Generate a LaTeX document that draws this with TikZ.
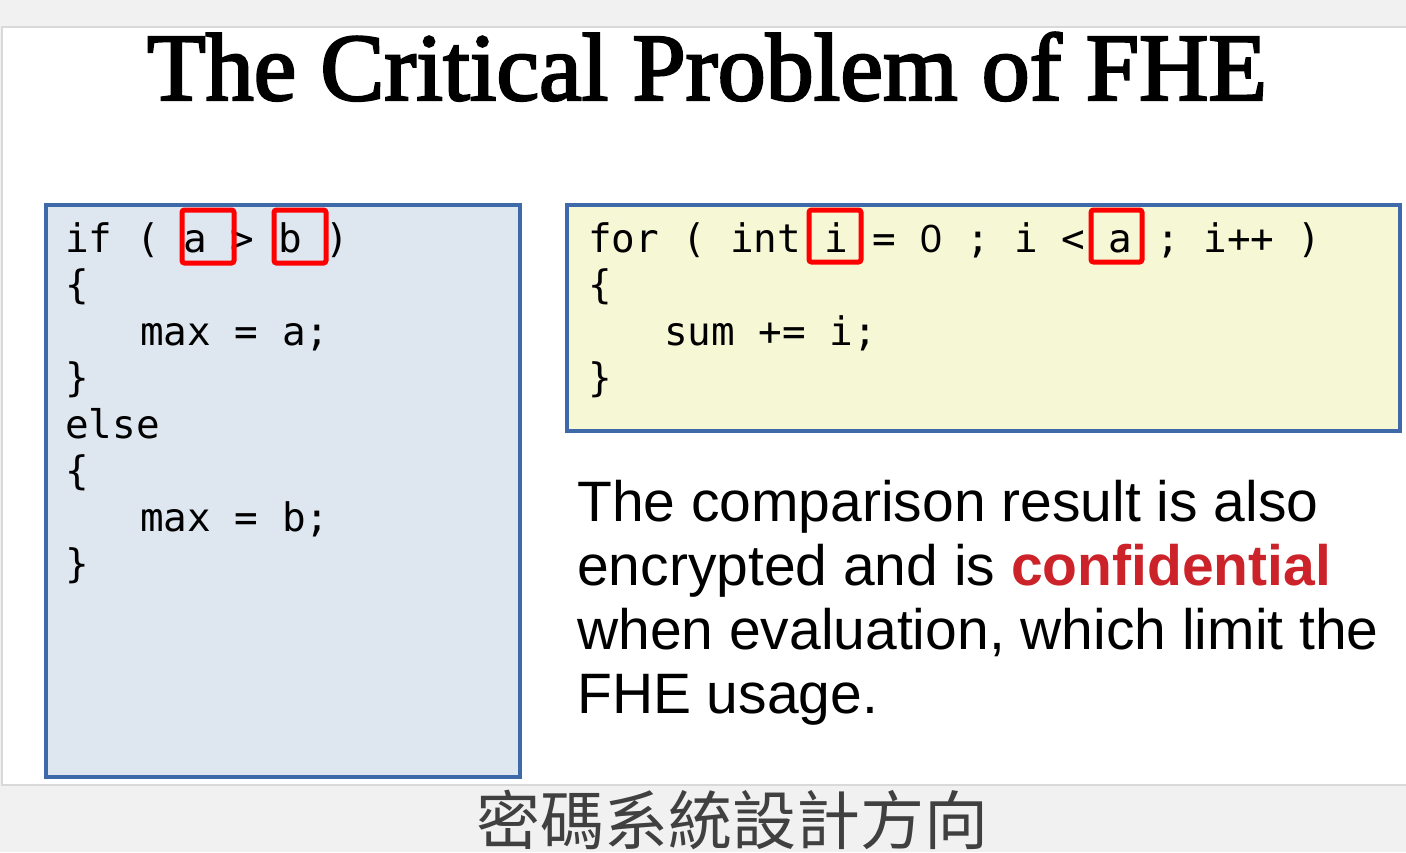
\documentclass[tikz,border=0pt]{standalone}
\usepackage{fontspec}
\setmainfont{Liberation Serif}
\newfontfamily\titlefont[FakeBold=2.5]{Liberation Serif}
\newfontfamily\codefont{DejaVu Sans Mono}
\newfontfamily\parafont{Liberation Sans}
\newfontfamily\cjkfont{Noto Sans CJK TC}
\newcommand{\plainzero}{\makebox[\fontcharwd\font`0][c]{\parafont 0}}
\definecolor{bggray}{HTML}{F1F1F1}
\definecolor{slideedge}{HTML}{D9D9D9}
\definecolor{leftfill}{HTML}{DEE6F0}
\definecolor{boxblue}{HTML}{3E6AAA}
\definecolor{yellowfill}{HTML}{F6F7D4}
\definecolor{markred}{HTML}{FF0000}
\definecolor{confred}{HTML}{CC2229}
\tikzset{
  codeline/.style={anchor=base west, inner sep=0pt, font=\codefont\fontsize{39.3}{39.3}\selectfont},
  paraline/.style={anchor=base west, inner sep=0pt, font=\parafont\fontsize{57}{57}\selectfont},
  codebox/.style={draw=boxblue, line width=4.5pt},
  markbox/.style={draw=markred, line width=5pt, rounded corners=2.5pt},
}
\begin{document}
\begin{tikzpicture}[x=1pt,y=-1pt]
\useasboundingbox (0,0) rectangle (1406,852);
\clip (0,0) rectangle (1406,852);
% background and slide
\fill[bggray] (0,0) rectangle (1406,852);
\draw[slideedge, line width=2pt, fill=white] (2,27) rectangle (1412,785);
% title
\node[anchor=base, inner sep=0pt, font=\titlefont\fontsize{96}{96}\selectfont] (title) at (707,100) {The Critical Problem of FHE};
% left code box
\draw[codebox, fill=leftfill] (46,205) rectangle (520,777);
\node[codeline] (l1) at (65,252) {if ( a > b )};
\node[codeline] (l2) at (65,298.5) {\{};
\node[codeline] (l3) at (140,345) {max = a;};
\node[codeline] (l4) at (65,391.5) {\}};
\node[codeline] (l5) at (65,438) {else};
\node[codeline] (l6) at (65,484.5) {\{};
\node[codeline] (l7) at (140,531) {max = b;};
\node[codeline] (l8) at (65,577.5) {\}};
\draw[markbox] (182,210) rectangle (234,263);
\draw[markbox] (274,210) rectangle (326,263);
% right code box
\draw[codebox, fill=yellowfill] (567,205) rectangle (1400,431);
\node[codeline] (r1) at (588,252) {for ( int i = \plainzero{} ; i < a ; i++ )};
\node[codeline] (r2) at (588,298.5) {\{};
\node[codeline] (r3) at (664,345) {sum += i;};
\node[codeline] (r4) at (588,391.5) {\}};
\draw[markbox] (809,210) rectangle (861,262);
\draw[markbox] (1091,210) rectangle (1142,262);
% paragraph
\node[paraline] (p1) at (577,521) {The comparison result is also};
\node[paraline] (p2) at (577,585) {encrypted and is {\bfseries\color{confred}confidential}};
\node[paraline] (p3) at (577,649) {when evaluation, which limit the};
\node[paraline] (p4) at (577,713) {FHE usage.};
% caption
\node[anchor=base, inner sep=0pt, font=\cjkfont\fontsize{64}{64}\selectfont, text=black!75] (caption) at (732,844) {密碼系統設計方向};
\end{tikzpicture}
\end{document}
